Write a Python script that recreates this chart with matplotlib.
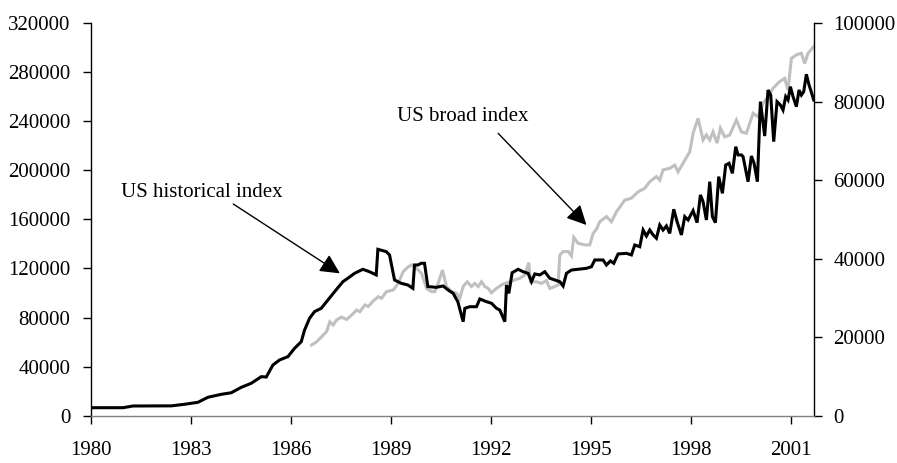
import matplotlib
matplotlib.use("Agg")
import matplotlib.pyplot as plt

plt.rcParams['font.family'] = ['Liberation Serif', 'DejaVu Serif']

# US historical index (left axis)
hist_t = [1980.0, 1980.95, 1981.25, 1982.4, 1982.8, 1983.2, 1983.5, 1983.9, 1984.2, 1984.5,
          1984.8, 1985.1, 1985.25, 1985.45, 1985.65, 1985.9, 1986.1, 1986.3, 1986.4, 1986.55,
          1986.7, 1986.9, 1987.1, 1987.3, 1987.55, 1987.7, 1987.9, 1988.15, 1988.35, 1988.55,
          1988.6, 1988.85, 1988.95, 1989.1, 1989.3, 1989.5, 1989.65, 1989.7, 1989.8, 1989.9,
          1990.0, 1990.1, 1990.35, 1990.56, 1990.71, 1990.86, 1991.0, 1991.16, 1991.21, 1991.36,
          1991.56, 1991.66, 1991.86, 1992.01, 1992.16, 1992.26, 1992.41, 1992.46, 1992.53, 1992.63,
          1992.81, 1992.96, 1993.11, 1993.21, 1993.31, 1993.46, 1993.61, 1993.76, 1993.91, 1994.06,
          1994.16, 1994.26, 1994.41, 1994.61, 1994.86, 1995.01, 1995.11, 1995.36, 1995.46, 1995.58,
          1995.68, 1995.81, 1996.06, 1996.21, 1996.31, 1996.46, 1996.56, 1996.66, 1996.76, 1996.86,
          1996.96, 1997.06, 1997.16, 1997.26, 1997.36, 1997.48, 1997.58, 1997.71, 1997.81, 1997.91,
          1998.06, 1998.18, 1998.28, 1998.36, 1998.46, 1998.56, 1998.64, 1998.73, 1998.83, 1998.94,
          1999.04, 1999.14, 1999.24, 1999.34, 1999.41, 1999.51, 1999.56, 1999.71, 1999.81, 1999.89,
          1999.99, 2000.08, 2000.21, 2000.31, 2000.39, 2000.48, 2000.58, 2000.68, 2000.76, 2000.84,
          2000.91, 2000.98, 2001.06, 2001.16, 2001.24, 2001.31, 2001.38, 2001.46, 2001.54, 2001.59,
          2001.68]
hist_v = [6500, 6500, 7900, 8000, 9300, 10900, 15000, 17400, 18700, 23100,
          26400, 31800, 31500, 41300, 45400, 48100, 54900, 60300, 69800, 79400,
          84800, 87500, 94300, 101000, 109200, 112000, 116000, 119300, 117300, 114700,
          135600, 133700, 131000, 110600, 107900, 106500, 103800, 122800, 122800, 124200,
          124200, 105200, 104600, 105700, 102400, 99700, 92900, 76600, 87500, 88800,
          88800, 95100, 92900, 91600, 87500, 86100, 76600, 106500, 99700, 116500,
          119300, 117300, 116000, 109200, 115500, 114700, 117300, 112000, 110600, 109200,
          105700, 116000, 118700, 119300, 120100, 121400, 126900, 126900, 122800, 126100,
          124200, 131800, 132300, 131000, 139100, 137700, 151300, 146400, 151300, 147300,
          144600, 155400, 151300, 154600, 148600, 168200, 158100, 147300, 162200, 159500,
          167100, 157300, 179900, 174400, 159500, 190700, 162200, 157300, 194800, 181200,
          204300, 205700, 197500, 219200, 212500, 212500, 211100, 190700, 211600, 205700,
          190700, 255900, 227900, 265400, 261300, 223300, 255900, 253200, 249100, 260000,
          257300, 268100, 260000, 251800, 265400, 261300, 264000, 278200, 269500, 265400,
          257300]

# US broad index (right axis)
broad_t = [1986.61, 1986.76, 1986.91, 1987.06, 1987.16, 1987.26, 1987.36, 1987.51, 1987.66, 1987.81,
           1987.96, 1988.06, 1988.21, 1988.31, 1988.46, 1988.61, 1988.71, 1988.86, 1989.06, 1989.21,
           1989.36, 1989.51, 1989.61, 1989.76, 1989.91, 1990.06, 1990.21, 1990.31, 1990.41, 1990.54,
           1990.66, 1990.81, 1990.96, 1991.06, 1991.16, 1991.28, 1991.41, 1991.51, 1991.61, 1991.71,
           1991.81, 1991.91, 1992.01, 1992.16, 1992.31, 1992.41, 1992.56, 1992.71, 1992.86, 1993.01,
           1993.13, 1993.18, 1993.36, 1993.51, 1993.66, 1993.76, 1993.91, 1994.01, 1994.06, 1994.16,
           1994.31, 1994.41, 1994.48, 1994.61, 1994.81, 1994.96, 1995.06, 1995.16, 1995.26, 1995.46,
           1995.61, 1995.76, 1996.01, 1996.21, 1996.41, 1996.61, 1996.76, 1996.96, 1997.06, 1997.16,
           1997.36, 1997.51, 1997.61, 1997.76, 1997.96, 1998.06, 1998.21, 1998.36, 1998.46, 1998.56,
           1998.66, 1998.78, 1998.88, 1999.01, 1999.16, 1999.36, 1999.51, 1999.66, 1999.86, 2000.01,
           2000.16, 2000.31, 2000.46, 2000.66, 2000.81, 2000.91, 2001.01, 2001.16, 2001.31, 2001.41,
           2001.51, 2001.64, 2001.68]
broad_v = [18000, 18800, 20100, 21400, 23900, 23100, 24400, 25100, 24500, 25600,
           26900, 26500, 28200, 27800, 29200, 30300, 29900, 31600, 32000, 33700,
           36700, 37900, 38400, 37500, 36300, 32400, 31600, 31600, 33700, 37100,
           32900, 31600, 31200, 29900, 32900, 34100, 32900, 33700, 32900, 34100,
           32900, 32400, 31300, 32400, 33300, 33700, 34100, 34600, 35000, 35800,
           39000, 34100, 34100, 33700, 34400, 32400, 32900, 33300, 40900, 41800,
           41800, 40700, 45400, 43900, 43500, 43500, 46400, 47500, 49400, 50700,
           49400, 51900, 54900, 55400, 57000, 57900, 59600, 60900, 60000, 62600,
           63000, 63800, 62100, 64300, 67200, 71900, 75700, 70200, 71500, 70200,
           72300, 69400, 73200, 71000, 71500, 75300, 72300, 71900, 77000, 76100,
           79600, 81200, 83400, 85100, 85900, 82900, 91000, 91900, 92300, 89700,
           92300, 93600, 94000]

x_ticks = [1980, 1983, 1986, 1989, 1992, 1995, 1998, 2001]
left_ticks = [0, 40000, 80000, 120000, 160000, 200000, 240000, 280000, 320000]
right_ticks = [0, 20000, 40000, 60000, 80000, 100000]

fig = plt.figure(figsize=(8.97, 4.63), dpi=100)
ax = fig.add_axes([0.1018, 0.1022, 0.8057, 0.8481])
ax2 = ax.twinx()

ax2.plot(broad_t, broad_v, color='#c0c0c0', lw=2.2, solid_joinstyle='miter')
ax.plot(hist_t, hist_v, color='black', lw=2.2, solid_joinstyle='miter')

ax.set_zorder(ax2.get_zorder() + 1)
ax.patch.set_visible(False)

ax.set_xlim(1980, 2001.69)
ax.set_ylim(0, 320000)
ax2.set_ylim(0, 100000)
ax.set_xticks(x_ticks)
ax.set_xticklabels([str(t) for t in x_ticks])
ax.set_yticks(left_ticks)
ax.set_yticklabels([str(t) for t in left_ticks])
ax2.set_yticks(right_ticks)
ax2.set_yticklabels([str(t) for t in right_ticks])

for a in (ax, ax2):
    a.spines['top'].set_visible(False)
    for s in a.spines.values():
        s.set_linewidth(1.0)
ax.spines['right'].set_visible(False)
ax2.spines['left'].set_visible(False)
ax2.spines['bottom'].set_visible(False)
ax.spines['bottom'].set_color('#808080')

fs = 15
ax.tick_params(axis='x', direction='out', length=6, width=1, pad=12, labelsize=fs, color='black')
ax.tick_params(axis='y', direction='out', length=6, width=1, pad=9, labelsize=fs)
ax2.tick_params(axis='y', direction='out', length=6, width=1, pad=8, labelsize=fs)

arrow_kw = dict(arrowstyle='-|>,head_length=0.5,head_width=0.25', color='black', lw=1.0,
                mutation_scale=24, shrinkA=0, shrinkB=0)
ax.annotate('', xy=(1987.46, 116000), xytext=(1984.26, 172500), textcoords='data', arrowprops=arrow_kw)
ax.annotate('', xy=(1994.86, 155400), xytext=(1992.21, 230100), textcoords='data', arrowprops=arrow_kw)
ax.text(1983.31, 181500, 'US historical index', fontsize=fs, ha='center', va='center')
ax.text(1991.14, 244000, 'US broad index', fontsize=fs, ha='center', va='center')

fig.savefig('out.png', dpi=100)
